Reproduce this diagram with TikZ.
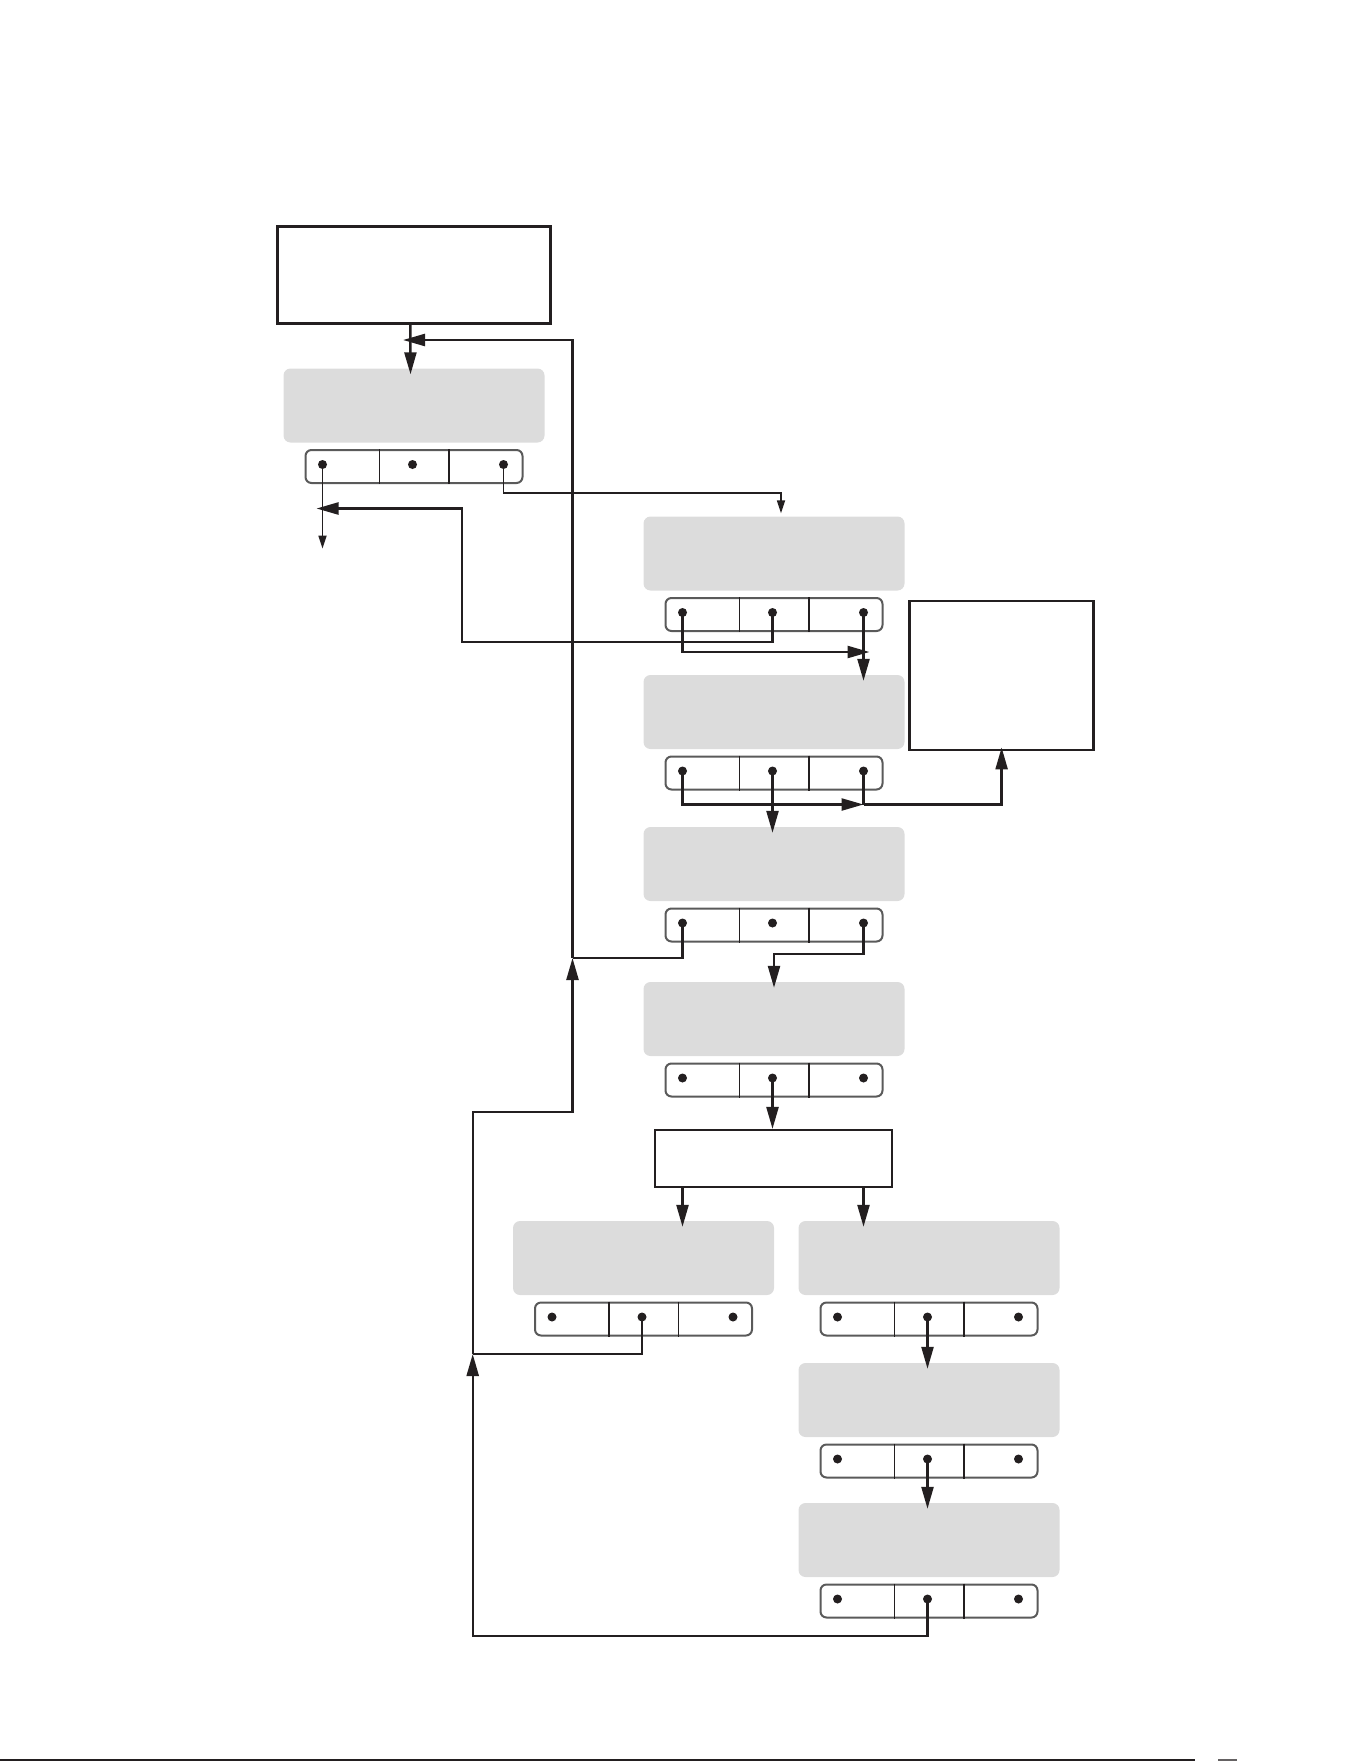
\documentclass[tikz,border=0pt]{standalone}
\usepackage{tikz}
\usetikzlibrary{arrows.meta, calc}
\definecolor{mink}{HTML}{231F20}
\definecolor{mfill}{HTML}{DCDCDC}
\definecolor{mrim}{HTML}{5A5A5A}
\tikzset{
  gbox/.style={fill=mfill, rounded corners=7pt, minimum width=261pt,
               minimum height=74pt, inner sep=0pt},
  wbox/.style={draw=mink, line width=2.4pt, fill=white, inner sep=0pt},
  portbar/.style={draw=mrim, line width=2pt, fill=white, rounded corners=6pt,
                  minimum width=217pt, minimum height=33pt, inner sep=0pt},
  port/.style={circle, fill=mink, minimum size=9pt, inner sep=0pt},
  divider/.style={mink, line width=1.8pt},
  ln/.style={mink, line width=2.4pt},
  arr/.style={ln, -{Triangle[length=22pt, width=12pt]}},
  inarr/.style={arr, shorten >=-6pt},
  tarr/.style={mink, line width=1.7pt, -{Triangle[length=13pt, width=8pt]}},
}

\begin{document}
\begin{tikzpicture}[x=1pt, y=-1pt]
    \useasboundingbox (0,0) rectangle (1361,1761);

    \node[wbox, minimum width=273pt, minimum height=97pt] (src) at (413.8,275.1) {};
    \node[wbox, minimum width=184pt, minimum height=149pt] (side) at (1001.6,675.7) {};
    \node[wbox, minimum width=237pt, minimum height=57pt] (split) at (773.2,1158.6) {};

    % grey stages with their three-port bars
    \foreach \n/\x/\y in {st1/414/405.5, st2/774/553.5, st3/774/712, st4/774/864,
                          st5/774/1019, st6/643.5/1258, st7/929/1258, st8/929/1400,
                          st9/929/1540} {
      \node[gbox] (\n) at (\x,\y) {};
      \node[portbar] (\n-bar) at (\x,\y+61) {};
      \draw[divider] ($(\n-bar.north)+(-34.5,0)$) -- ($(\n-bar.south)+(-34.5,0)$);
      \draw[divider] ($(\n-bar.north)+(35,0)$) -- ($(\n-bar.south)+(35,0)$);
      \node[port] (\n-a) at ($(\n-bar.center)+(-91.5,-2)$) {};
      \node[port] (\n-b) at ($(\n-bar.center)+(-1.5,-2)$) {};
      \node[port] (\n-c) at ($(\n-bar.center)+(89.5,-2)$) {};
    }

    \coordinate (exitA) at ($(st1-a)+(0,84)$);
    \coordinate (jTop) at (403,340);
    \coordinate (jRet) at (316.5,508.5);
    \coordinate (jRetKnee) at (461.7,641.7);
    \coordinate (jSide) at ($(st3-c)+(0,33.5)$);
    \coordinate (jS4) at (572.5,958);
    \coordinate (jKnee) at (572.5,1112);
    \coordinate (jS6) at (472.7,1354);

    \draw[inarr] ([xshift=-3.5pt]src.south) -- ([xshift=-3.5pt]st1.north);
    \draw[tarr] (st1-a.center) -- (exitA);
    \draw[tarr] (st1-c.center) -- ++(0,28.5) -| ([xshift=7pt, yshift=3pt]st2.north);

    \draw[arr] (st2-b.center) |- (jRetKnee) |- (jRet);
    \draw[arr] (st2-a.center) |- ($(st2-c.center)+(6,39.5)$);
    \draw[inarr] (st2-c.center) -- (st2-c |- st3.north);

    \draw[arr] (st3-a.center) |- (jSide);
    \draw[ln] (st3-c.center) -- (jSide);
    \draw[arr] (jSide) -| ([yshift=4pt]side.south);
    \draw[inarr] (st3-b.center) -- (st3-b |- st4.north);

    \draw[ln] (st4-a.center) |- (jS4);
    \draw[inarr] (st4-c.center) -- ++(0,31) -| (st5.north);
    \draw[arr] (st5-b.center) -- (st5-b |- split.north);

    \draw[inarr] (split.south -| st5-a) -- (st5-a |- st6.north);
    \draw[inarr] (split.south -| st5-c) -- (st5-c |- st7.north);
    \draw[inarr] (st7-b.center) -- (st7-b |- st8.north);
    \draw[inarr] (st8-b.center) -- (st8-b |- st9.north);

    % return loop
    \draw[ln] (st6-b.center) |- (jS6);
    \draw[arr] (st9-b.center) -- ++(0,37) -| (jS6);
    \draw[arr] (jS6) |- (jKnee) -- (jS4);
    \draw[arr] (jS4) |- (jTop);

    \draw[mink, line width=1.5pt] (0,1760) -- (1195,1760);
    \draw[mink!70, line width=1.5pt] (1218,1760) -- (1237,1760);
\end{tikzpicture}
\end{document}
